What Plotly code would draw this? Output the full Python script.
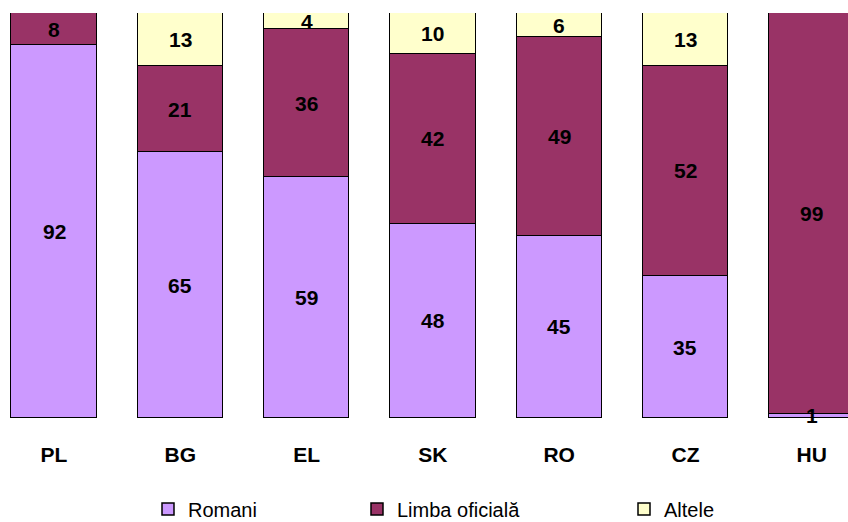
import plotly.graph_objects as go

categories = ["PL", "BG", "EL", "SK", "RO", "CZ", "HU"]
romani = [92, 65, 59, 48, 45, 35, 1]
limba_oficiala = [8, 21, 36, 42, 49, 52, 99]
altele = [0, 13, 4, 10, 6, 13, 0]

series = [
    ("Romani", romani, "#CC99FF", "legend"),
    ("Limba oficială", limba_oficiala, "#993366", "legend2"),
    ("Altele", altele, "#FFFFCC", "legend3"),
]

FONT = "Liberation Sans, Arial, sans-serif"

fig = go.Figure()
xs = list(range(len(categories)))
for name, vals, color, lg in series:
    fig.add_trace(go.Bar(
        x=xs, y=vals, name=name, width=0.675,
        marker=dict(color=color, line=dict(color="black", width=1.5)),
        legend=lg, hoverinfo="skip",
    ))

# value labels centred in each (100%-normalised) segment
totals = [sum(t) for t in zip(romani, limba_oficiala, altele)]
annotations = []
base = [0.0] * len(categories)
for name, vals, color, lg in series:
    for i, v in enumerate(vals):
        share = v / totals[i] * 100
        if v > 0:
            annotations.append(dict(
                x=xs[i], y=base[i] + share / 2, text=str(v), showarrow=False,
                xref="x", yref="y",
                font=dict(family=FONT, size=21, color="black", weight="bold"),
            ))
        base[i] += share

legend_common = dict(
    orientation="h", yanchor="middle", y=-0.2247, xanchor="left",
    font=dict(family=FONT, size=20, color="black"),
    bgcolor="rgba(0,0,0,0)", itemclick=False, itemdoubleclick=False,
)

fig.update_layout(
    barmode="stack", barnorm="percent",
    width=848, height=522,
    margin=dict(l=0, r=0, t=13, b=104, autoexpand=False),
    plot_bgcolor="white", paper_bgcolor="white",
    showlegend=True,
    legend=dict(x=148 / 848, **legend_common),
    legend2=dict(x=357 / 848, **legend_common),
    legend3=dict(x=624 / 848, **legend_common),
    annotations=annotations,
    xaxis=dict(
        range=[-0.4276, 6.287], tickmode="array", tickvals=xs, ticktext=categories,
        showgrid=False, zeroline=False, showline=False,
        ticks="outside", ticklen=18, tickcolor="rgba(0,0,0,0)",
        tickfont=dict(family=FONT, size=21, color="black", weight="bold"),
    ),
    yaxis=dict(range=[0, 100], visible=False, showgrid=False, zeroline=False),
    bargap=0,
)

fig.write_html("out.html", config={"displayModeBar": False},
               post_script="document.body.style.margin='0';")
